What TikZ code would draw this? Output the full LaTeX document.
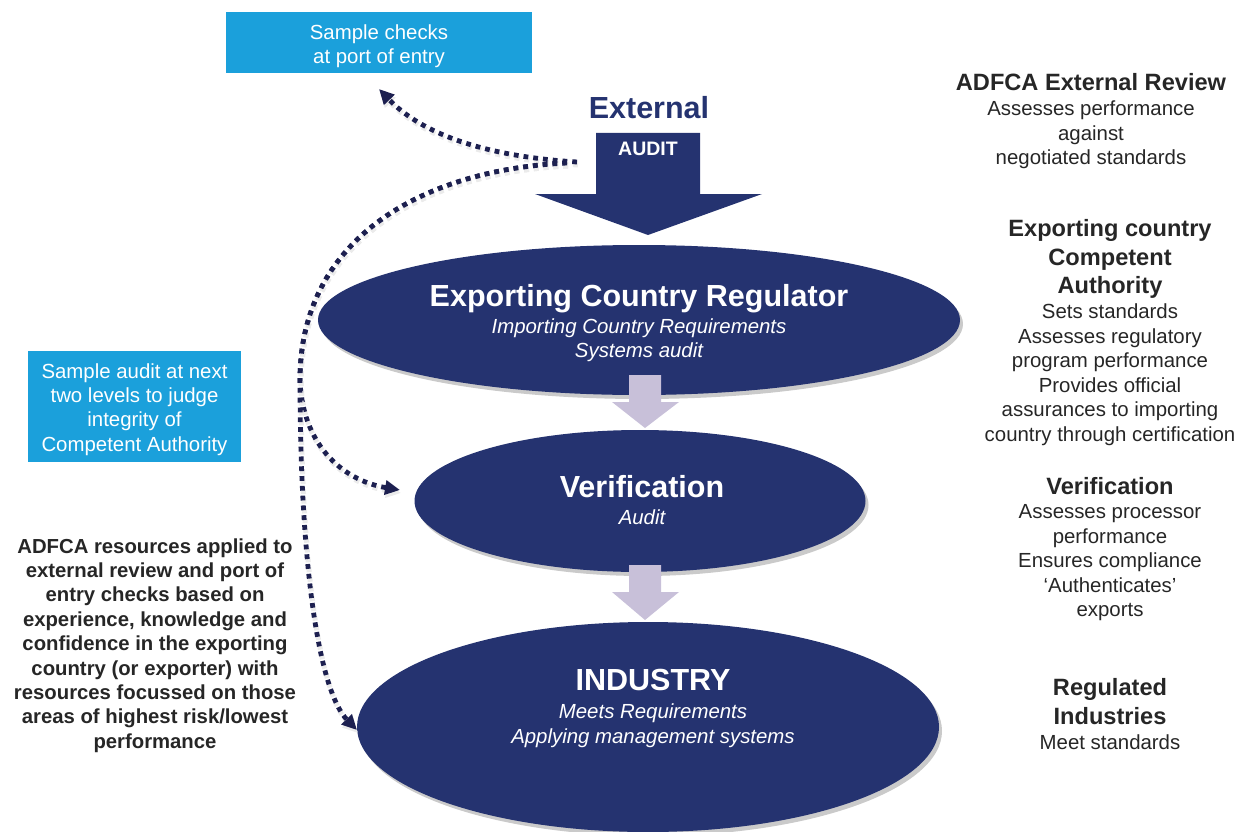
\documentclass[tikz,border=0pt]{standalone}
\usepackage{fontspec}
\setmainfont{Liberation Sans}
\usetikzlibrary{shapes.geometric,arrows.meta}
\definecolor{navy}{HTML}{253370}
\definecolor{dotc}{HTML}{1D2050}
\definecolor{cyanbox}{HTML}{1BA0DB}
\definecolor{lilac}{HTML}{C8C0D9}
\definecolor{txt}{HTML}{262626}
\newcommand{\myfs}[2]{\fontsize{#1}{#2}\selectfont}
\begin{document}
\begin{tikzpicture}[x=1pt,y=-1pt,
  ell/.style={ellipse, fill=navy, inner sep=0pt},
  shad/.style={ellipse, fill=black!35, inner sep=0pt, opacity=0.6},
  bluebox/.style={fill=cyanbox, inner sep=0pt},
  boxtext/.style={text=white, font=\myfs{20.4}{24.4}, align=center, inner sep=0pt},
  title/.style={text=white, font=\bfseries\myfs{30.5}{36}, inner sep=0pt},
  sub/.style={text=white, font=\itshape\myfs{20.4}{24.5}, align=center, inner sep=0pt},
  rhead/.style={text=txt, font=\bfseries\myfs{23.6}{28.5}, align=center, inner sep=0pt},
  rbody/.style={text=txt, font=\myfs{20.4}{24.5}, align=center, inner sep=0pt},
  lbody/.style={text=txt, font=\bfseries\myfs{20.3}{24.4}, align=center, inner sep=0pt},
  dotline/.style={draw=dotc, line width=4.8pt, dash pattern=on 4.8pt off 5pt,
     -{Triangle[length=15pt,width=14pt]},
     preaction={draw=black!8, line width=5pt, dash pattern=on 5pt off 4.8pt,
       transform canvas={xshift=1pt,yshift=-3pt}}},
  lilacarrow/.style={fill=lilac},
  bigarrow/.style={fill=navy}
]
\useasboundingbox (0,0) rectangle (1236,832);

% --- ellipses with shadows
\node[shad, minimum width=642pt, minimum height=150pt] (ecrs) at (642,324) {};
\node[ell, minimum width=642pt, minimum height=150pt] (ecr) at (639,320) {};
\node[shad, minimum width=451pt, minimum height=142pt] (evers) at (643,505) {};
\node[ell, minimum width=451pt, minimum height=142pt] (ever) at (640,501) {};
\node[shad, minimum width=582pt, minimum height=210pt] (einds) at (651,731) {};
\node[ell, minimum width=582pt, minimum height=210pt] (eind) at (648,727) {};

% --- big external audit arrow
\fill[bigarrow] (596,133) -- (700,133) -- (700,194) -- (762,194) -- (648,235)
   -- (535,194) -- (596,194) -- cycle;
\node[text=navy, font=\bfseries\myfs{30.5}{36}, inner sep=0pt] (ext) at (649,108) {External};
\node[text=white, font=\bfseries\myfs{19.5}{24}, inner sep=0pt] (audit) at (648,148.5) {AUDIT};

% --- lilac arrows
\fill[lilacarrow] (629,375) -- (661,375) -- (661,402) -- (679,402) -- (645,428)
   -- (612,402) -- (629,402) -- cycle;
\fill[lilacarrow] (629,565) -- (661,565) -- (661,592) -- (679,592) -- (645,620)
   -- (612,592) -- (629,592) -- cycle;

% --- ellipse texts
\node[title] (t1) at (639,299) {Exporting Country Regulator};
\node[sub] (s1) at (639,340) {Importing Country Requirements\\Systems audit};
\node[title] (t2) at (642,487) {Verification};
\node[sub] (s2) at (642,517) {Audit};
\node[title] (t3) at (653,680) {INDUSTRY};
\node[sub] (s3) at (653,725.5) {Meets Requirements\\Applying management systems};

% --- blue boxes
\node[bluebox, minimum width=306pt, minimum height=61pt] (scbox) at (379,42.5) {};
\node[boxtext] (sctext) at (379,46) {Sample checks\\at port of entry};
\node[bluebox, minimum width=213pt, minimum height=111pt] (sabox) at (134.5,406.5) {};
\node[boxtext] (satext) at (134.5,409.5) {Sample audit at next\\two levels to judge\\integrity of\\Competent Authority};

% --- left text
\node[lbody] (ltext) at (155,645.5) {ADFCA resources applied to\\external review and port of\\entry checks based on\\experience, knowledge and\\confidence in the exporting\\country (or exporter) with\\resources focussed on those\\areas of highest risk/lowest\\performance};

% --- right texts
\node[rhead] (h1) at (1091,82) {ADFCA External Review};
\node[rbody] (b1) at (1091,135) {Assesses performance\\against\\negotiated standards};
\node[rhead] (h2) at (1110,259) {Exporting country\\Competent\\Authority};
\node[rbody] (b2) at (1110,374.5) {Sets standards\\Assesses regulatory\\program performance\\Provides official\\assurances to importing\\country through certification};
\node[rhead] (h3) at (1110,486) {Verification};
\node[rbody] (b3) at (1110,563) {Assesses processor\\performance\\Ensures compliance\\‘Authenticates’\\exports};
\node[rhead] (h4) at (1110,701.5) {Regulated\\Industries};
\node[rbody] (b4) at (1110,742) {Meet standards};

% --- dotted connectors
\coordinate (srcA) at (577,162);
\coordinate (srcB) at (567,163);
\coordinate (tipA) at (379,89);
\coordinate (mid) at (300,380);
\coordinate (tipV) at (400,490);
\coordinate (tipI) at (357,730);
\draw[dotline] (srcA) .. controls (480,156) and (420,132) .. (tipA);
\draw[dotline] (srcB) .. controls (420,170) and (300,240) .. (mid)
   .. controls (302,442) and (340,480) .. (tipV);
\draw[dotline] (srcB) .. controls (420,170) and (300,240) .. (mid)
   .. controls (300,560) and (318,690) .. (tipI);
\end{tikzpicture}
\end{document}
